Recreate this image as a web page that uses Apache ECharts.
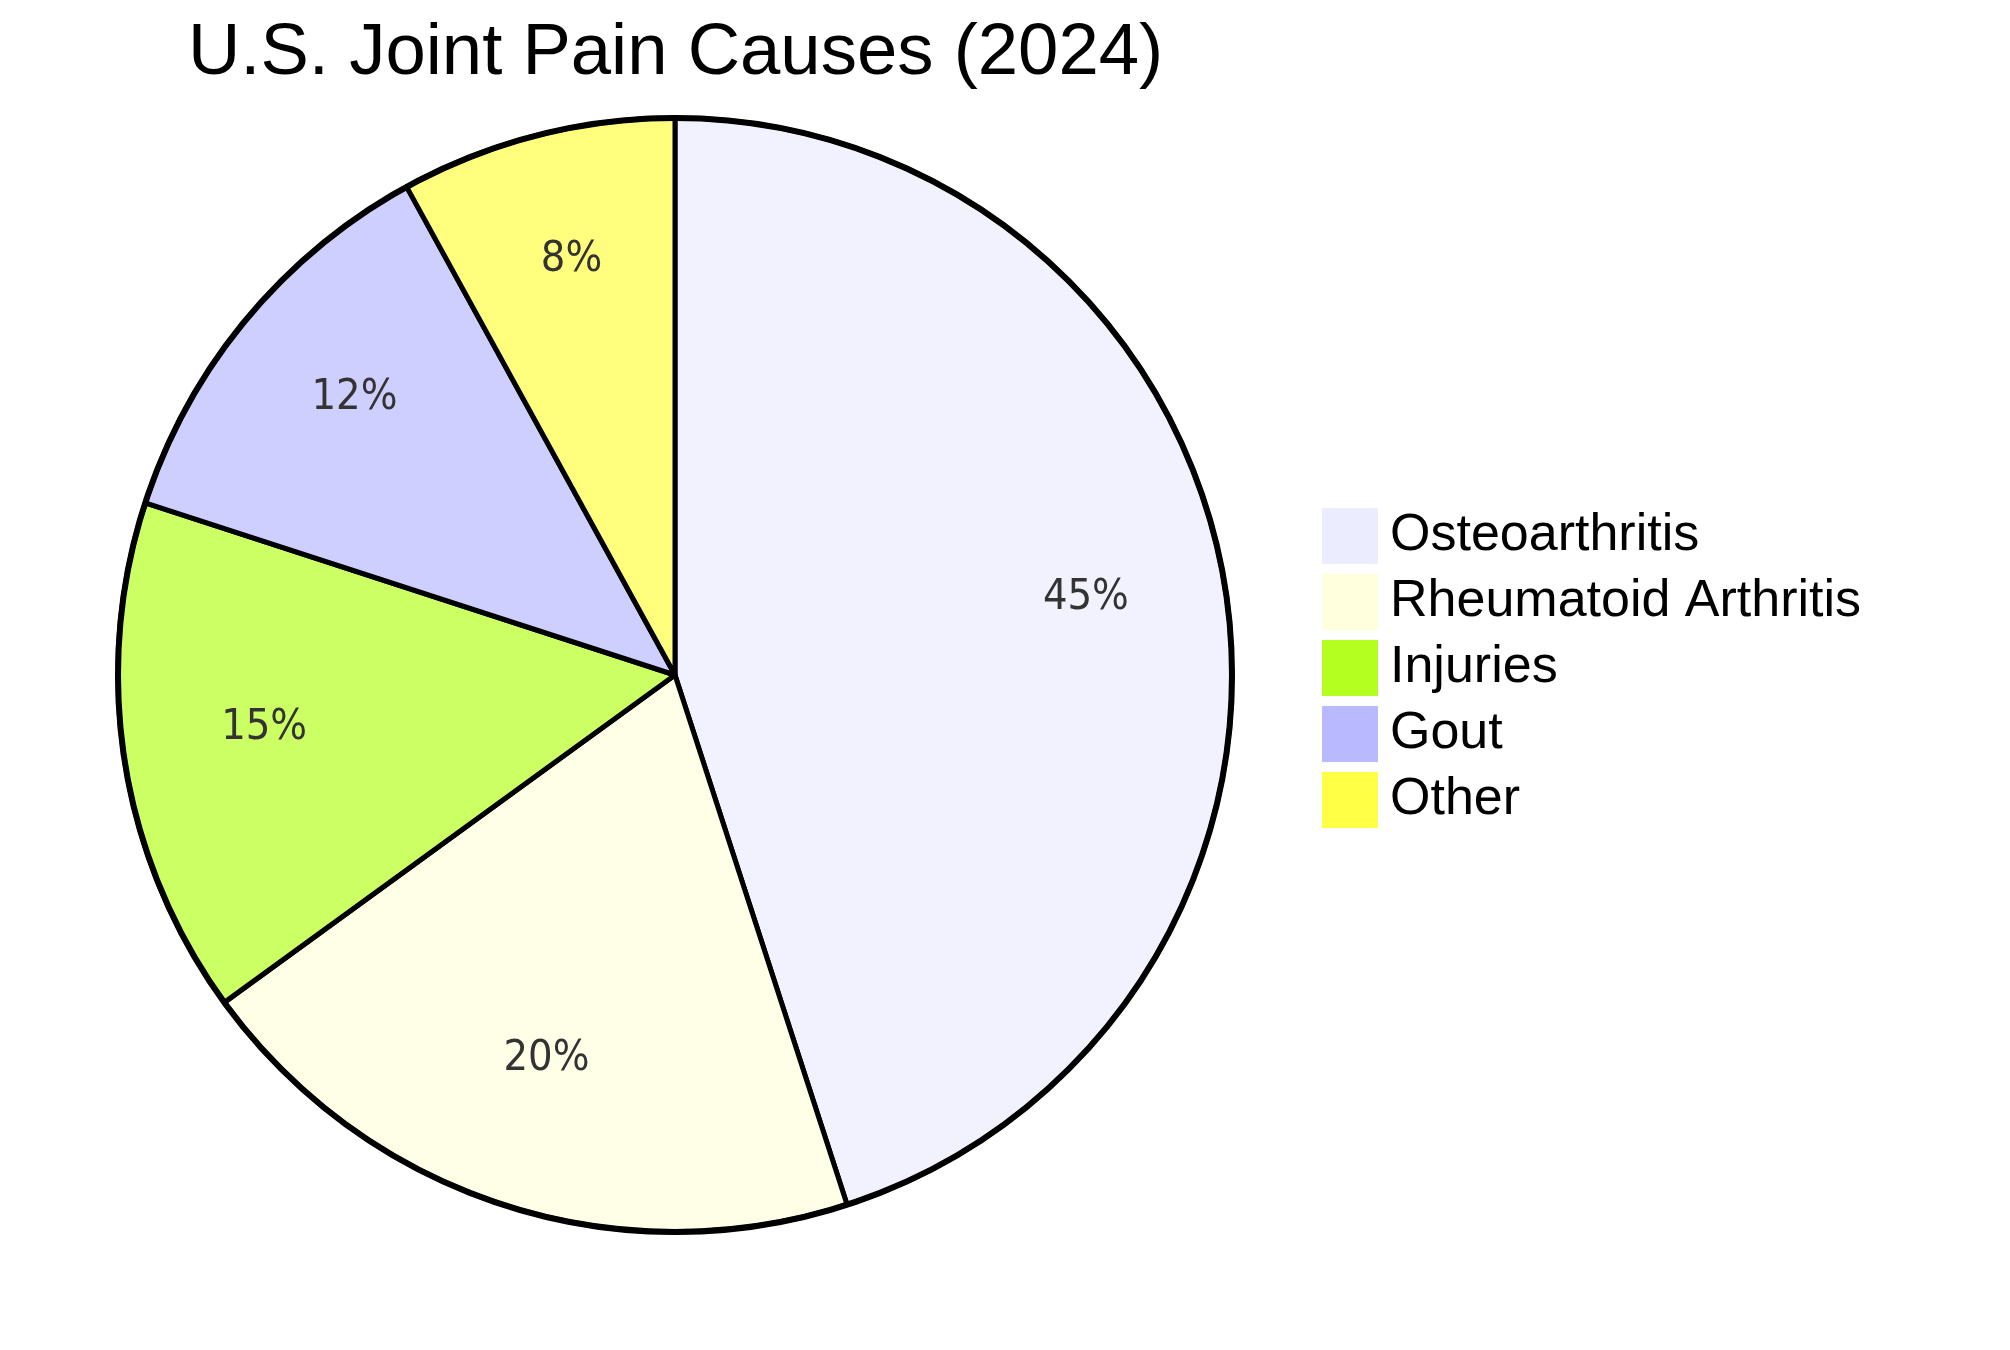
<!DOCTYPE html>
<html>
<head>
<meta charset="utf-8">
<script src="https://cdn.jsdelivr.net/npm/echarts@6/dist/echarts.min.js"></script>
<style>
html,body{margin:0;padding:0;background:#fff;}
#chart{width:2010px;height:1350px;}
</style>
</head>
<body>
<div id="chart"></div>
<script>
const titleText = 'U.S. Joint Pain Causes (2024)';
const categories = ['Osteoarthritis', 'Rheumatoid Arthritis', 'Injuries', 'Gout', 'Other'];
const values = [45, 20, 15, 12, 8];
const swatchColors = ['#ECECFF', '#FFFFDE', '#B5FF20', '#B9B9FF', '#FFFF45'];
const sliceColors = ['#F2F2FF', '#FFFFE8', '#CBFF63', '#CECEFF', '#FFFF7D'];

const FONT = '"Liberation Sans", Arial, sans-serif';
const LABEL_FONT = '"DejaVu Sans Condensed", "Liberation Sans", sans-serif';
const CX = 675, CY = 675, R = 557, LABEL_R0 = 269;

const chart = echarts.init(document.getElementById('chart'), null, {renderer: 'canvas'});

const mainData = categories.map((c, i) => ({
  name: c, value: values[i], itemStyle: {color: sliceColors[i]}
}));
const labelData = categories.map((c, i) => ({
  name: c, value: values[i]
}));

chart.setOption({
  backgroundColor: '#ffffff',
  animation: false,
  title: {
    text: titleText,
    left: 188,
    top: 17,
    padding: 0,
    textStyle: {fontFamily: FONT, fontSize: 72.5, fontWeight: 'normal', color: '#000'}
  },
  legend: {
    orient: 'vertical',
    left: 1322,
    top: 508,
    padding: 0,
    itemWidth: 56,
    itemHeight: 56,
    itemGap: 10,
    icon: 'rect',
    selectedMode: false,
    data: categories.map((c, i) => ({name: c, itemStyle: {color: swatchColors[i], borderWidth: 0}})),
    textStyle: {fontFamily: FONT, fontSize: 52, color: '#000', padding: [0, 0, 0, 7]}
  },
  series: [
    {
      type: 'pie',
      name: 'slices',
      center: [CX, CY],
      radius: [0, R],
      startAngle: 90,
      clockwise: true,
      silent: true,
      label: {show: false},
      labelLine: {show: false},
      itemStyle: {borderColor: '#000', borderWidth: 5},
      data: mainData
    },
    {
      type: 'pie',
      name: 'labels',
      center: [CX, CY],
      radius: [LABEL_R0, R],
      startAngle: 90,
      clockwise: true,
      silent: true,
      itemStyle: {color: 'rgba(0,0,0,0)', borderWidth: 0},
      label: {
        show: true,
        position: 'inside',
        offset: [0, -12],
        fontFamily: LABEL_FONT,
        fontSize: 43,
        color: '#333',
        formatter: p => Math.round(p.percent) + '%'
      },
      labelLine: {show: false},
      data: labelData
    },
    {
      type: 'pie',
      name: 'outline',
      center: [CX, CY],
      radius: [0, R],
      silent: true,
      label: {show: false},
      labelLine: {show: false},
      itemStyle: {color: 'rgba(0,0,0,0)', borderColor: '#000', borderWidth: 6},
      data: [{name: '__outline', value: 1}]
    }
  ]
});
</script>
</body>
</html>
